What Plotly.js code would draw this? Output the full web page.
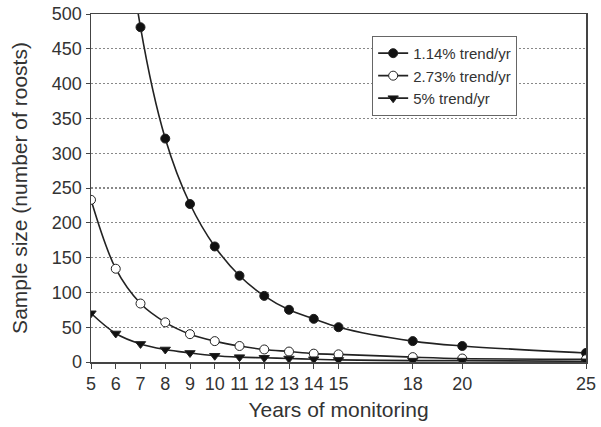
<!DOCTYPE html>
<html><head><meta charset="utf-8">
<script src="https://cdn.plot.ly/plotly-3.0.1.min.js"></script>
<style>html,body{margin:0;padding:0;background:#fff}#chart{width:601px;height:427px}</style>
</head><body><div id="chart"></div>
<script>
const years = [5, 6, 7, 8, 9, 10, 11, 12, 13, 14, 15, 18, 20, 25];
const trend114 = [1320, 760, 481, 321, 227, 166, 124, 95, 75, 62, 50, 30, 23, 13];
const trend273 = [233, 134, 84, 57, 40, 30, 23, 18, 15, 12, 11, 7, 5, 4];
const trend5 = [70, 41, 26, 18, 13, 9, 7, 6, 5, 4, 3, 2, 2, 1];
const seriesNames = ['1.14% trend/yr', '2.73% trend/yr', '5% trend/yr'];
const xTicks = [5, 6, 7, 8, 9, 10, 11, 12, 13, 14, 15, 18, 20, 25];
const yTicks = [0, 50, 100, 150, 200, 250, 300, 350, 400, 450, 500];

const lineCol = '#222';
function tr(y, name, sym, fill) {
  return {
    x: years, y: y, name: name, type: 'scatter', mode: 'lines+markers',
    line: {color: lineCol, width: 1.6, shape: 'spline', smoothing: 1},
    marker: {symbol: sym, size: 9, color: fill,
             line: {color: lineCol, width: 1}},
    cliponaxis: true
  };
}
const data = [
  tr(trend114, seriesNames[0], 'circle', '#111'),
  tr(trend273, seriesNames[1], 'circle', '#fff'),
  tr(trend5, seriesNames[2], 'triangle-down', '#111')
];
const layout = {
  width: 601, height: 427,
  margin: {l: 91, r: 15, t: 14, b: 65},
  paper_bgcolor: '#fff', plot_bgcolor: '#fff',
  font: {family: 'Liberation Sans, Arial, sans-serif', color: '#333'},
  showlegend: true,
  legend: {x: 0.568, y: 0.937, xanchor: 'left', yanchor: 'top',
           bordercolor: '#666', borderwidth: 1, bgcolor: '#fff',
           font: {size: 15, color: '#333'}, tracegroupgap: 0, itemwidth: 30},
  xaxis: {range: [5, 25], tickvals: xTicks, ticktext: xTicks.map(String),
          showgrid: false, zeroline: false, showline: true, mirror: true,
          linecolor: '#444', linewidth: 1.5, ticks: 'outside', ticklen: 5,
          tickcolor: '#444', tickfont: {size: 18, color: '#333'},
          title: {text: 'Years of monitoring', font: {size: 21, color: '#333'}, standoff: 9}},
  yaxis: {range: [0, 500], tickvals: yTicks, showgrid: true,
          gridcolor: '#888', griddash: '1.5px,2.5px', gridwidth: 1.2, zeroline: false,
          showline: true, mirror: true, linecolor: '#444', linewidth: 1.5,
          ticks: 'outside', ticklen: 4, tickcolor: '#444',
          tickfont: {size: 18, color: '#333'},
          title: {text: 'Sample size (number of roosts)', font: {size: 21, color: '#333'}, standoff: 18}}
};
Plotly.newPlot('chart', data, layout, {displayModeBar: false, staticPlot: true});
</script></body></html>
